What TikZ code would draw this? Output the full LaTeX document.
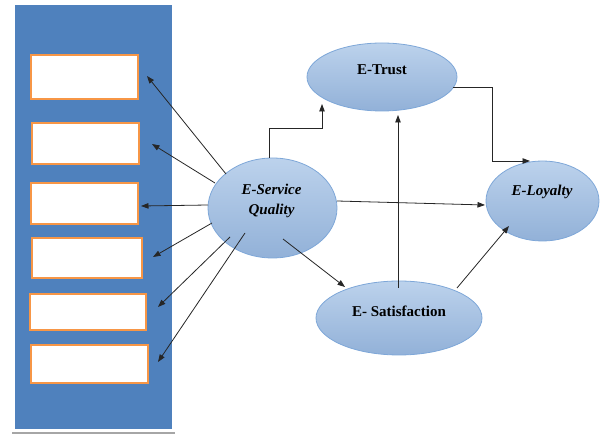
\documentclass[tikz,border=0pt]{standalone}
\usepackage{fontspec}
\setmainfont{Liberation Serif}
\usetikzlibrary{arrows.meta,calc,shapes.geometric}
\definecolor{panelblue}{HTML}{4F81BD}
\definecolor{boxorange}{HTML}{F79646}
\definecolor{ovaltop}{HTML}{BCD2EC}
\definecolor{ovalbot}{HTML}{92B1D8}
\definecolor{ovaledge}{HTML}{7EA7D8}
\begin{document}
\begin{tikzpicture}[x=1pt,y=-1pt,
  panel/.style={fill=panelblue, inner sep=0pt, anchor=north west},
  slot/.style={draw=boxorange, line width=2pt, fill=white, inner sep=0pt, anchor=north west},
  oval/.style={ellipse, draw=ovaledge, line width=0.8pt, top color=ovaltop, bottom color=ovalbot, inner sep=0pt},
  link/.style={draw=black!85, line width=0.8pt, -{Triangle[length=7.5pt,width=5.5pt]}},
  lbl/.style={font=\fontsize{15}{20}\selectfont\bfseries, align=center, inner sep=0pt},
  ilbl/.style={lbl, font=\fontsize{15}{20}\selectfont\bfseries\itshape}]
\useasboundingbox (0,0) rectangle (600,435);

% left panel with the six empty indicator boxes
\node[panel, minimum width=157pt, minimum height=424pt] (panel) at (15,5) {};
\draw[gray!70, line width=2pt] (12,433) -- (175,433);
\node[slot, minimum width=107pt, minimum height=44pt] (b1) at (30,54) {};
\node[slot, minimum width=107pt, minimum height=41pt] (b2) at (31,122) {};
\node[slot, minimum width=107pt, minimum height=41pt] (b3) at (30,182) {};
\node[slot, minimum width=110pt, minimum height=40pt] (b4) at (31,237) {};
\node[slot, minimum width=116pt, minimum height=36pt] (b5) at (29,293) {};
\node[slot, minimum width=117pt, minimum height=38pt] (b6) at (30,344) {};

% constructs
\node[oval, minimum width=129pt, minimum height=100pt] (esq) at (272.5,208) {};
\node[oval, minimum width=150pt, minimum height=68pt] (trust) at (382,77) {};
\node[oval, minimum width=113pt, minimum height=80pt] (loyal) at (542.5,201) {};
\node[oval, minimum width=166pt, minimum height=74pt] (sat) at (399,318) {};

\node[ilbl] (esqtext) at (271.5,201) {E-Service\\Quality};
\node[lbl] (trusttext) at (382,70) {E-Trust};
\node[ilbl] (loyaltext) at (542,192) {E-Loyalty};
\node[lbl] (sattext) at (399,311) {E- Satisfaction};

% arrow ends next to the boxes
\coordinate (t1) at (147,76);
\coordinate (t2) at (152,144);
\coordinate (t3) at (141,206);
\coordinate (t4) at (153,257);
\coordinate (t5) at (158,307);
\coordinate (t6) at (158,362);

\draw[link] ($(esq.center)+(-46.5,-34)$) -- (t1);
\draw[link] ($(esq.center)+(-57.5,-25)$) -- (t2);
\draw[link] ($(esq.center)+(-64.5,-3)$) -- (t3);
\draw[link] ($(esq.center)+(-60.5,15)$) -- (t4);
\draw[link] ($(esq.center)+(-42.5,29)$) -- (t5);
\draw[link] ($(esq.center)+(-27.5,25)$) -- (t6);

% structural paths
\coordinate (trustin) at (322,104);
\coordinate (satup) at (398,115);
\coordinate (loyaltop) at (530,161);
\coordinate (loyalleft) at (485,205);
\coordinate (loyalbl) at (509,226);
\coordinate (satin) at (345,287);

\draw[link] ($(esq.north)+(-3.5,0)$) -- ++(0,-29) -| (trustin);
\draw[link] ($(trust.center)+(71,10)$) -| ($(loyaltop)+(-38,0)$) -- (loyaltop);
\draw[link] ($(sat.center)+(-1,-30)$) -- (satup);
\draw[link] ($(esq.center)+(64.5,-7)$) -- (loyalleft);
\draw[link] ($(esq.center)+(10.5,31)$) -- (satin);
\draw[link] ($(sat.center)+(58,-30)$) -- (loyalbl);
\end{tikzpicture}
\end{document}
